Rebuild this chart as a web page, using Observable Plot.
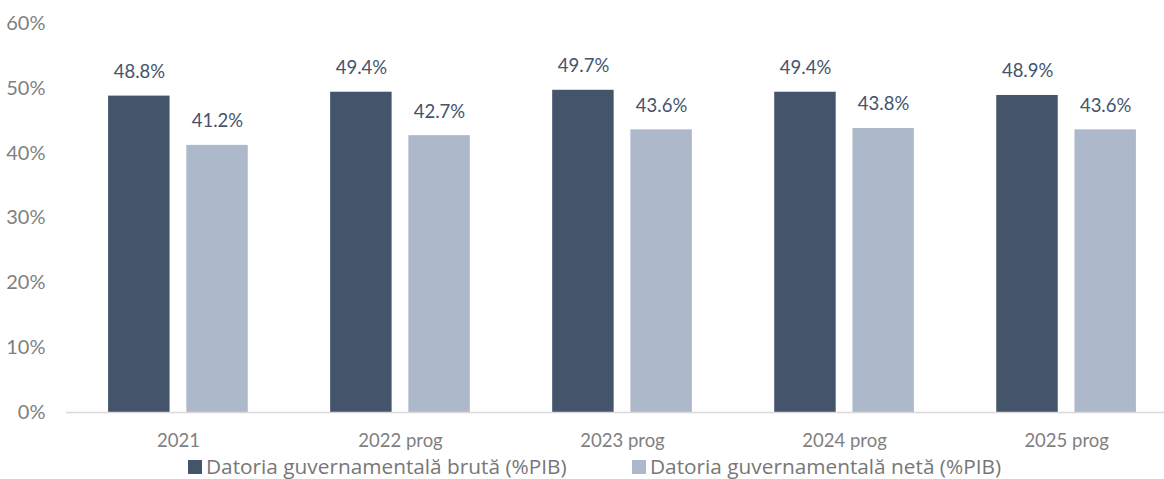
<!DOCTYPE html>
<html>
<head>
<meta charset="utf-8">
<script src="https://cdn.jsdelivr.net/npm/d3@7"></script>
<script src="https://cdn.jsdelivr.net/npm/@observablehq/plot@0.6"></script>
<style>
  body { margin: 0; background: #fff; font-family: Lato, "Open Sans", sans-serif; overflow: hidden; }
  #chart svg { display: block; }
  .legend { position: relative; height: 27px; font-family: "Open Sans", sans-serif; font-size: 20.8px; color: #777; }
  .legend .item { position: absolute; top: 1px; height: 27px; display: flex; align-items: center; gap: 4px; white-space: nowrap; line-height: 1; }
  .legend .sw { display: inline-block; width: 14px; height: 14px; }
</style>
</head>
<body>
<div id="chart"></div>
<script>
const years = ["2021", "2022 prog", "2023 prog", "2024 prog", "2025 prog"];
const gross = [48.8, 49.4, 49.7, 49.4, 48.9];
const net = [41.2, 42.7, 43.6, 43.8, 43.6];
const series = ["Datoria guvernamentală brută (%PIB)", "Datoria guvernamentală netă (%PIB)"];
const colors = ["#44546a", "#adb9ca"];
const yTicks = [0, 10, 20, 30, 40, 50, 60];

const grossData = years.map((yr, i) => ({year: yr, series: series[0], value: gross[i]}));
const netData = years.map((yr, i) => ({year: yr, series: series[1], value: net[i]}));

// each year band holds two bars (~61.5px) separated by a ~16.7px gap
const GAP_INSET = 78.2;
const HALF = 39;

const chart = Plot.plot({
  width: 1164,
  height: 452,
  marginLeft: 66,
  marginRight: 0,
  marginTop: 23,
  marginBottom: 40,
  style: {fontFamily: "Lato, 'Open Sans', sans-serif", fontSize: "16px", background: "#fff"},
  x: {domain: years, paddingInner: 0.371, paddingOuter: 0.158, align: 0.6, round: false, label: null},
  y: {domain: [0, 60], label: null},
  color: {domain: series, range: colors},
  marks: [
    Plot.barY(grossData, {x: "year", y: "value", fill: "series", insetRight: GAP_INSET}),
    Plot.barY(netData, {x: "year", y: "value", fill: "series", insetLeft: GAP_INSET}),
    Plot.text(grossData, {x: "year", y: "value", text: d => d.value.toFixed(1) + "%", dx: -HALF, dy: -24, fill: "#44546a", fontSize: 18.5}),
    Plot.text(netData, {x: "year", y: "value", text: d => d.value.toFixed(1) + "%", dx: HALF, dy: -24, fill: "#44546a", fontSize: 18.5}),
    Plot.ruleY([0], {stroke: "#d9d9d9", strokeWidth: 1.3}),
    Plot.axisY({ticks: yTicks, tickFormat: d => d + "%", tickSize: 0, tickPadding: 21, fill: "#7f7f7f", fontSize: 20, label: null}),
    Plot.axisX({tickSize: 0, tickPadding: 21, fill: "#7f7f7f", fontSize: 18.5, label: null})
  ]
});
document.getElementById("chart").appendChild(chart);

const legend = document.createElement("div");
legend.className = "legend";
const legendLeft = [188, 632];
series.forEach((s, i) => {
  const item = document.createElement("div");
  item.className = "item";
  item.style.left = legendLeft[i] + "px";
  const sw = document.createElement("span");
  sw.className = "sw";
  sw.style.background = colors[i];
  const t = document.createElement("span");
  t.textContent = s;
  item.appendChild(sw);
  item.appendChild(t);
  legend.appendChild(item);
});
document.body.appendChild(legend);
</script>
</body>
</html>
